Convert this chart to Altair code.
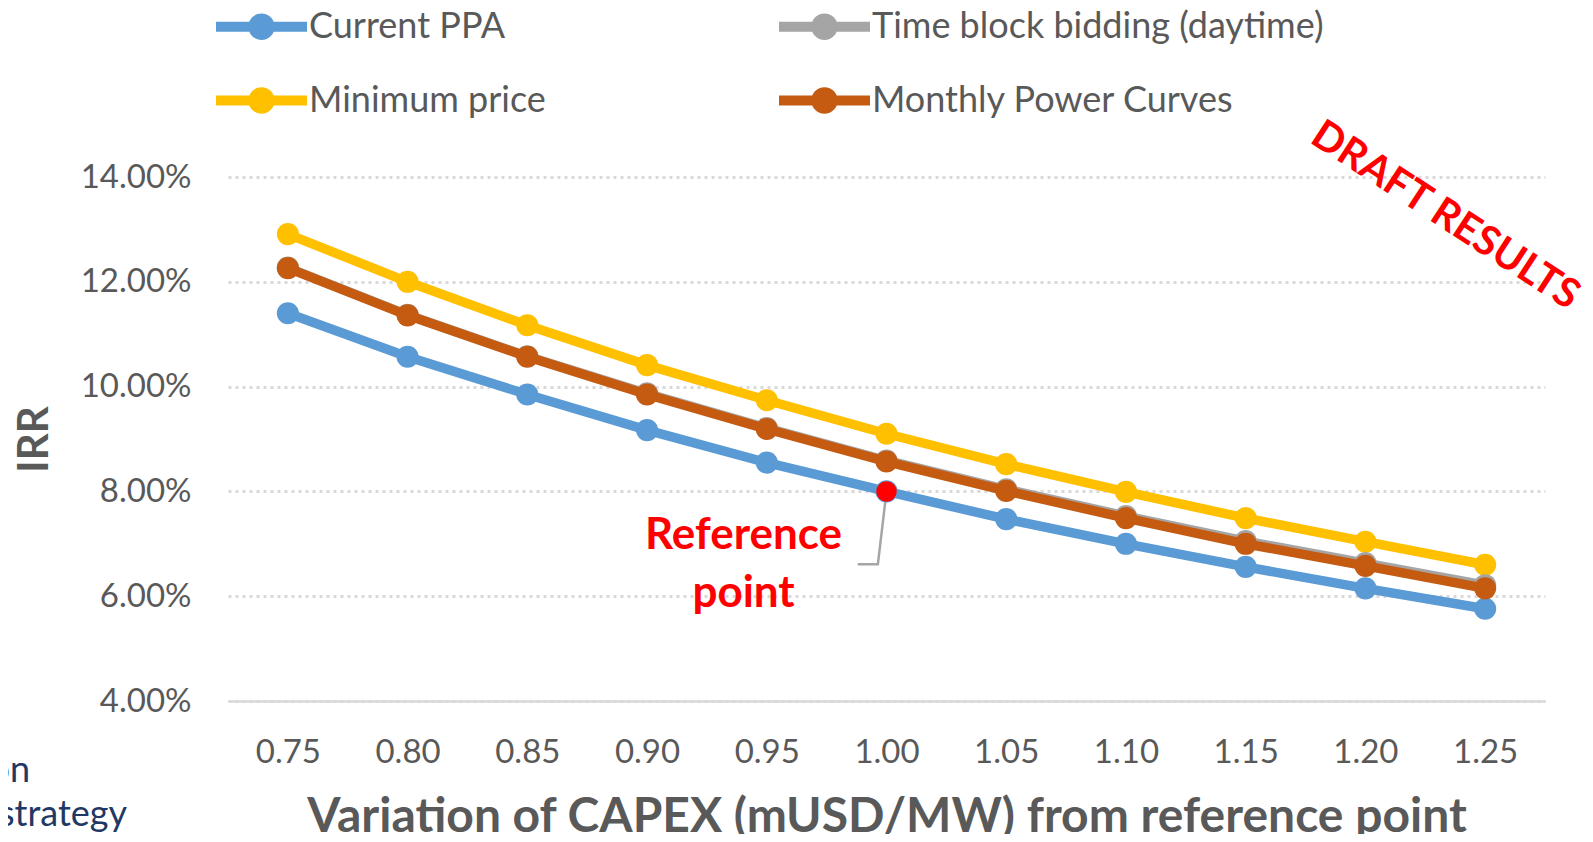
import altair as alt
import pandas as pd

# ---- data ----
capex = [0.75, 0.80, 0.85, 0.90, 0.95, 1.00, 1.05, 1.10, 1.15, 1.20, 1.25]
current_ppa = [11.40, 10.57, 9.85, 9.17, 8.55, 8.00, 7.47, 7.00, 6.56, 6.15, 5.76]
time_block = [12.27, 11.37, 10.58, 9.87, 9.21, 8.59, 8.04, 7.53, 7.05, 6.63, 6.21]
minimum_price = [12.91, 12.00, 11.17, 10.41, 9.74, 9.10, 8.52, 7.99, 7.49, 7.04, 6.60]
monthly_power = [12.26, 11.36, 10.57, 9.85, 9.19, 8.57, 8.01, 7.49, 7.00, 6.58, 6.15]

series_names = ["Current PPA", "Time block bidding (daytime)", "Minimum price", "Monthly Power Curves"]
series_colors = ["#5B9BD5", "#A5A5A5", "#FFC000", "#C55A11"]
series_values = [current_ppa, time_block, minimum_price, monthly_power]
draw_order = ["Current PPA", "Minimum price", "Time block bidding (daytime)", "Monthly Power Curves"]

y_ticks = [4, 6, 8, 10, 12, 14]
ref_point_x = [1.00]
ref_point_y = [8.00]
ref_labels = ["Reference", "point"]
leader_x = [1.00, 0.9964, 0.988]
leader_y = [8.00, 6.61, 6.61]

rows = []
for name, vals in zip(series_names, series_values):
    for c, v in zip(capex, vals):
        rows.append({"capex": c, "irr": v, "series": name})
df = pd.DataFrame(rows)

FONT = "Lato"
GREY = "#595959"
color_of = dict(zip(series_names, series_colors))
color_scale = alt.Scale(domain=series_names, range=series_colors)

x_enc = alt.X(
    "capex:Q",
    scale=alt.Scale(domain=[0.725, 1.275], nice=False, zero=False),
    axis=alt.Axis(
        values=capex, format=".2f", title="Variation of CAPEX (mUSD/MW) from reference point",
        grid=False, ticks=False, tickSize=0, domain=True, domainColor="#D9D9D9", domainWidth=2.5,
        labelFont=FONT, labelFontSize=33, labelColor=GREY, labelPadding=35,
        titleFont=FONT, titleFontSize=48, titleFontWeight="bold", titleColor=GREY,
        titleY=116, titleBaseline="middle",
    ),
)
y_enc = alt.Y(
    "irr:Q",
    scale=alt.Scale(domain=[4, 14], nice=False, zero=False),
    axis=alt.Axis(
        values=y_ticks, labelExpr="format(datum.value, '.2f') + '%'", title="IRR",
        grid=True, gridDash=[3, 4], gridColor="#D9D9D9", gridWidth=3,
        ticks=False, tickSize=0, domain=False,
        labelFont=FONT, labelFontSize=33, labelColor=GREY, labelPadding=37,
        titleFont=FONT, titleFontSize=42, titleFontWeight="bold", titleColor=GREY,
        titleX=-194, titleY=262, titleAngle=-90, titleBaseline="middle", titleAlign="center",
    ),
)

legend_path = ("M-1,-0.11 L1,-0.11 L1,0.11 L-1,0.11 Z "
               "M0.29,0 A0.29,0.29 0 1,1 -0.29,0 A0.29,0.29 0 1,1 0.29,0 Z")
legend = alt.Legend(
    orient="none", legendX=-12, legendY=-196, columns=2, gridAlign="all", direction="horizontal",
    values=series_names,
    symbolType=legend_path, symbolSize=8281, symbolStrokeWidth=0, symbolOpacity=1,
    labelFont=FONT, labelFontSize=36, labelColor=GREY, labelOffset=2, labelLimit=1000,
    rowPadding=10, columnPadding=18, title=None, padding=0,
)

layers = []
leader_df = pd.DataFrame({"capex": leader_x, "irr": leader_y, "o": list(range(len(leader_x)))})
layers.append(
    alt.Chart(leader_df).mark_line(color="#A6A6A6", strokeWidth=2.5).encode(
        x=x_enc, y=y_enc, order="o:Q"
    )
)
for name in draw_order:
    sub = alt.Chart(df).transform_filter(alt.datum.series == name)
    layers.append(
        sub.mark_line(strokeWidth=9.5, color=color_of[name]).encode(x=x_enc, y=y_enc)
    )
    layers.append(
        sub.mark_point(filled=True, size=490, opacity=1, shape="circle").encode(
            x=x_enc, y=y_enc, color=alt.Color("series:N", scale=color_scale, legend=legend)
        )
    )

ref_df = pd.DataFrame({"capex": ref_point_x, "irr": ref_point_y})
layers.append(
    alt.Chart(ref_df).mark_circle(color="#FF0000", size=420, opacity=1).encode(x=x_enc, y=y_enc)
)

lab_df = pd.DataFrame({"capex": [0.9403, 0.9403], "irr": [7.145, 6.04], "t": ref_labels})
layers.append(
    alt.Chart(lab_df).mark_text(
        font=FONT, fontSize=44, fontWeight="bold", color="#FF0000", align="center", baseline="middle"
    ).encode(x=x_enc, y=y_enc, text="t:N")
)

deco = alt.Chart(pd.DataFrame({"a": [0]}))
layers.append(
    deco.mark_text(
        text="DRAFT RESULTS", font=FONT, fontSize=41, fontWeight="bold", color="#FF0000",
        angle=33, align="center", baseline="middle",
    ).encode(x=alt.value(1217), y=alt.value(39))
)
layers.append(
    deco.mark_text(
        text="on", font=FONT, fontSize=36, color="#1F3864", align="right", baseline="alphabetic",
    ).encode(x=alt.value(-198), y=alt.value(605))
)
layers.append(
    deco.mark_text(
        text="strategy", font=FONT, fontSize=36, color="#1F3864", align="right", baseline="alphabetic",
    ).encode(x=alt.value(-101), y=alt.value(649))
)

chart = alt.layer(*layers).properties(
    width=1317, height=524,
    autosize=alt.AutoSizeParams(type="none"),
    padding={"left": 220, "top": 169, "right": 40, "bottom": 133},
    background="white",
).configure_view(stroke=None)

chart.save("out.html", embed_options={"renderer": "svg", "actions": False})
